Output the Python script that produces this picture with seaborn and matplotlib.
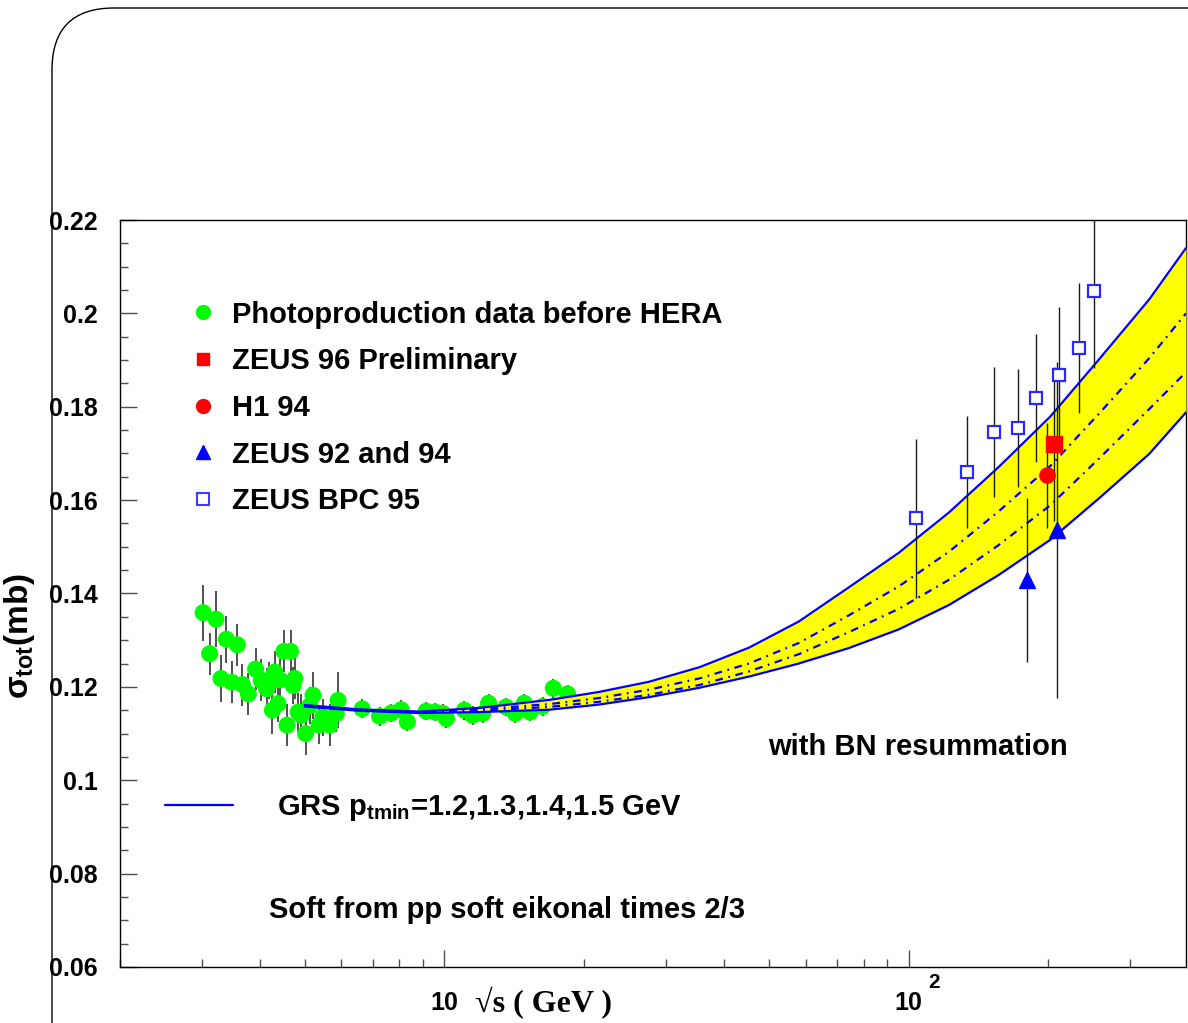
import numpy as np
import pandas as pd
import matplotlib
matplotlib.use('Agg')
import matplotlib.pyplot as plt
import seaborn as sns
from matplotlib.lines import Line2D
from matplotlib.patches import FancyBboxPatch
from matplotlib.ticker import FixedLocator, NullFormatter, FuncFormatter

# Photoproduction data before HERA (sqrt(s) in GeV, sigma in mb)
lowSqrtS = [3.02, 3.22, 3.12, 3.39, 3.58, 3.30, 3.48, 3.67, 3.78, 3.92,
            4.03, 4.14, 4.31, 4.18, 4.42, 4.51, 4.66, 4.76, 4.72, 4.38,
            4.26, 4.58, 4.84, 5.02, 4.92, 5.21, 5.13, 5.37, 5.66, 5.47,
            5.90, 5.85, 6.65, 7.25, 7.68, 8.07, 8.32, 9.13, 9.56, 10.1,
            9.92, 11.04, 11.50, 12.09, 12.45, 13.57, 14.21, 14.86, 15.29, 16.27,
            17.16, 18.42]
lowSigma = [0.1359, 0.1345, 0.1271, 0.1302, 0.1290, 0.1218, 0.1210, 0.1205, 0.1185, 0.1238,
            0.1214, 0.1196, 0.1232, 0.1214, 0.1215, 0.1276, 0.1276, 0.1218, 0.1203, 0.1164,
            0.1150, 0.1118, 0.1146, 0.1100, 0.1139, 0.1182, 0.1160, 0.1118, 0.1118, 0.1135,
            0.1171, 0.1143, 0.1153, 0.1137, 0.1144, 0.1151, 0.1125, 0.1148, 0.1146, 0.1132,
            0.1143, 0.1150, 0.1139, 0.1143, 0.1165, 0.1157, 0.1143, 0.1165, 0.1146, 0.1158,
            0.1197, 0.1185]
lowErr = [0.0060, 0.0060, 0.0045, 0.0050, 0.0045, 0.0050, 0.0045, 0.0045, 0.0045, 0.0045,
          0.0045, 0.0045, 0.0045, 0.0040, 0.0045, 0.0045, 0.0045, 0.0045, 0.0040, 0.0040,
          0.0050, 0.0045, 0.0040, 0.0045, 0.0045, 0.0050, 0.0040, 0.0040, 0.0045, 0.0040,
          0.0060, 0.0040, 0.0020, 0.0020, 0.0020, 0.0020, 0.0020, 0.0020, 0.0020, 0.0020,
          0.0020, 0.0020, 0.0020, 0.0020, 0.0020, 0.0020, 0.0020, 0.0020, 0.0020, 0.0020,
          0.0020, 0.0020]

# HERA measurements
bpcSqrtS = [103.9, 133.7, 152.6, 172.0, 188.0, 211.0, 233.0, 251.0]
bpcSigma = [0.1561, 0.1660, 0.1746, 0.1754, 0.1818, 0.1868, 0.1926, 0.2048]
bpcErr = [0.0170, 0.0120, 0.0140, 0.0126, 0.0137, 0.0145, 0.0140, 0.0165]

zeus96SqrtS = [206.0]
zeus96Sigma = [0.1720]
zeus96Err = [0.0165]

h1SqrtS = [199.0]
h1Sigma = [0.1653]
h1Err = [0.0112]

zeus9294SqrtS = [180.0, 209.0]
zeus9294Sigma = [0.1429, 0.1536]
zeus9294Err = [0.0176, 0.0360]

# GRS curves, ptmin = 1.2, 1.3, 1.4, 1.5 GeV
curveSqrtS = [5.0, 6.5, 8.84, 11.9, 16.8, 21.5, 27.6, 35.4, 45.3, 58.0,
              74.3, 95.2, 122.0, 156.0, 202.0, 256.0, 330.0, 396.0]
pt12 = [0.1161, 0.1152, 0.1147, 0.1155, 0.1172, 0.1189, 0.1211, 0.1242, 0.1284, 0.1340,
        0.1413, 0.1487, 0.1573, 0.1670, 0.1779, 0.1899, 0.2030, 0.2140]
pt13 = [0.1160, 0.1151, 0.1146, 0.1152, 0.1163, 0.1176, 0.1194, 0.1218, 0.1250, 0.1294,
        0.1353, 0.1415, 0.1489, 0.1575, 0.1673, 0.1783, 0.1904, 0.2000]
pt14 = [0.1159, 0.1150, 0.1145, 0.1149, 0.1157, 0.1168, 0.1183, 0.1204, 0.1233, 0.1270,
        0.1317, 0.1367, 0.1429, 0.1503, 0.1589, 0.1687, 0.1795, 0.1874]
pt15 = [0.1158, 0.1149, 0.1144, 0.1146, 0.1151, 0.1162, 0.1178, 0.1198, 0.1222, 0.1250,
        0.1283, 0.1323, 0.1375, 0.1439, 0.1515, 0.1602, 0.1699, 0.1788]

legendLabels = ['Photoproduction data before HERA', 'ZEUS 96 Preliminary', 'H1 94',
                'ZEUS 92 and 94', 'ZEUS BPC 95']
yTicks = [0.06, 0.08, 0.10, 0.12, 0.14, 0.16, 0.18, 0.20, 0.22]

GREEN = '#00ff00'
RED = '#ff0000'
BLUE = '#0000ff'
YELLOW = '#ffff00'

sns.set_style('ticks')
plt.rcParams['font.family'] = ['Liberation Sans', 'DejaVu Sans']
plt.rcParams['font.weight'] = 'bold'
plt.rcParams['text.color'] = 'black'
plt.rcParams['axes.labelcolor'] = 'black'
plt.rcParams['xtick.labelcolor'] = 'black'
plt.rcParams['ytick.labelcolor'] = 'black'
plt.rcParams['mathtext.fontset'] = 'custom'
plt.rcParams['mathtext.rm'] = 'Liberation Sans:bold'
plt.rcParams['mathtext.it'] = 'Liberation Sans:bold'
plt.rcParams['mathtext.bf'] = 'Liberation Sans:bold'
plt.rcParams['mathtext.sf'] = 'Liberation Sans:bold'

W, H = 1188, 1023
fig = plt.figure(figsize=(W / 100, H / 100), dpi=100)
ax = fig.add_axes([120 / W, 1 - 967 / H, 1066 / W, 747 / H])

# green low-energy data
ax.errorbar(lowSqrtS, lowSigma, yerr=lowErr, fmt='none', ecolor='0.2', elinewidth=1.2, zorder=2)
sns.scatterplot(x=lowSqrtS, y=lowSigma, ax=ax, color=GREEN, s=150, edgecolor='none', zorder=3)

# GRS band and curves
ax.fill_between(curveSqrtS, pt15, pt12, color=YELLOW, lw=0, zorder=4)
dashDot = (0, (3.5, 2.5, 0.8, 2.5))
curves = pd.DataFrame({'sqrtS': curveSqrtS, 'pt12': pt12, 'pt13': pt13, 'pt14': pt14, 'pt15': pt15})
sns.lineplot(data=curves, x='sqrtS', y='pt12', ax=ax, color=BLUE, lw=1.6, zorder=5)
sns.lineplot(data=curves, x='sqrtS', y='pt13', ax=ax, color=BLUE, lw=1.6, linestyle=dashDot, zorder=5)
sns.lineplot(data=curves, x='sqrtS', y='pt14', ax=ax, color=BLUE, lw=1.6, linestyle=dashDot, zorder=5)
sns.lineplot(data=curves, x='sqrtS', y='pt15', ax=ax, color=BLUE, lw=1.6, zorder=5)

# HERA points
for xs, ys, es in [(bpcSqrtS, bpcSigma, bpcErr), (zeus96SqrtS, zeus96Sigma, zeus96Err),
                   (h1SqrtS, h1Sigma, h1Err), (zeus9294SqrtS, zeus9294Sigma, zeus9294Err)]:
    ax.errorbar(xs, ys, yerr=es, fmt='none', ecolor='0.1', elinewidth=1.0, zorder=6)
ax.plot(bpcSqrtS, bpcSigma, ls='none', marker='s', ms=8, mfc='white', mec='#2828ff', mew=1.6, zorder=7)
ax.plot(zeus96SqrtS, zeus96Sigma, ls='none', marker='s', ms=11, color=RED, zorder=7)
ax.plot(h1SqrtS, h1Sigma, ls='none', marker='o', ms=11, color=RED, zorder=7)
ax.plot(zeus9294SqrtS, zeus9294Sigma, ls='none', marker='^', ms=11, color=BLUE, zorder=7)

ax.set_xscale('log')
ax.set_xlim(2.0, 396)
ax.set_ylim(0.06, 0.22)
ax.set_xlabel('')
ax.set_ylabel('')

ax.set_xticks([10, 100])
ax.set_xticklabels(['10', '10'])
minorX = [2, 3, 4, 5, 6, 7, 8, 9, 20, 30, 40, 50, 60, 70, 80, 90, 200, 300]
ax.xaxis.set_minor_locator(FixedLocator(minorX))
ax.xaxis.set_minor_formatter(NullFormatter())
ax.set_yticks(yTicks)
ax.yaxis.set_major_formatter(FuncFormatter(lambda v, p: f'{v:g}'))
ax.yaxis.set_minor_locator(FixedLocator(np.arange(0.06, 0.2201, 0.005)))

ax.tick_params(which='major', direction='in', length=12, width=1.0, color='0.3',
               labelsize=18, labelcolor='black', top=False, right=False)
ax.tick_params(which='minor', direction='in', length=6, width=1.0, color='0.3', top=False, right=False)
ax.tick_params(axis='y', which='major', pad=16)
ax.tick_params(axis='x', which='major', pad=17)
for lab in ax.get_xticklabels() + ax.get_yticklabels():
    lab.set_fontweight('bold')
for sp in ax.spines.values():
    sp.set_visible(True)
    sp.set_linewidth(1.0)
    sp.set_color('black')

# exponent of the 10^2 label, ROOT style
ax.annotate('2', xy=(100, 0), xycoords=('data', 'axes fraction'), xytext=(25, -16),
            textcoords='offset pixels', fontsize=15, fontweight='bold', ha='center',
            va='center', color='black', annotation_clip=False)

# legend for data sets
handles = [
    Line2D([], [], ls='none', marker='o', ms=10, color=GREEN),
    Line2D([], [], ls='none', marker='s', ms=9, color=RED),
    Line2D([], [], ls='none', marker='o', ms=10, color=RED),
    Line2D([], [], ls='none', marker='^', ms=10, color=BLUE),
    Line2D([], [], ls='none', marker='s', ms=9, mfc='white', mec='#3b3bff', mew=1.5),
]
leg = ax.legend(handles, legendLabels, loc='upper left', bbox_to_anchor=(0.0642, 0.892),
                frameon=False, fontsize=21, handlelength=1.0, handletextpad=0.49,
                labelspacing=0.64, borderpad=0, borderaxespad=0)
for t in leg.get_texts():
    t.set_fontweight('bold')
    t.set_color('black')
ax.add_artist(leg)

grsLeg = ax.legend([Line2D([], [], color=BLUE, lw=1.6)],
                   [r'GRS p$_{\mathrm{tmin}}$=1.2,1.3,1.4,1.5 GeV'],
                   loc='center left', bbox_to_anchor=(0.042, 0.213), frameon=False,
                   fontsize=21, handlelength=2.35, handletextpad=1.5, borderpad=0, borderaxespad=0)
grsLeg.get_texts()[0].set_fontweight('bold')
grsLeg.get_texts()[0].set_color('black')

ax.text(0.608, 0.2945, 'with BN resummation', transform=ax.transAxes, fontsize=21,
        fontweight='bold', va='center', ha='left', color='black')
ax.text(0.1396, 0.0763, 'Soft from pp soft eikonal times 2/3', transform=ax.transAxes,
        fontsize=21, fontweight='bold', va='center', ha='left', color='black')

# axis titles
fig.text(475 / W, 1 - 1003 / H, '\u221as ( GeV )', fontsize=23, fontweight='bold',
         family=['Liberation Serif', 'DejaVu Serif'], ha='left', va='center', color='black')
fig.text(2 / W, 1 - 636 / H, r'$\sigma_{\mathrm{tot}}$(mb)', fontsize=24, fontweight='bold',
         rotation=90, ha='left', va='center', color='black')

# rounded outer frame
frame = FancyBboxPatch((0.52, -1.0), 13.0, 11.15, boxstyle='round,pad=0,rounding_size=0.62',
                       transform=fig.dpi_scale_trans, fill=False, lw=1.0, ec='black')
fig.add_artist(frame)

fig.savefig('out.png', dpi=100)
